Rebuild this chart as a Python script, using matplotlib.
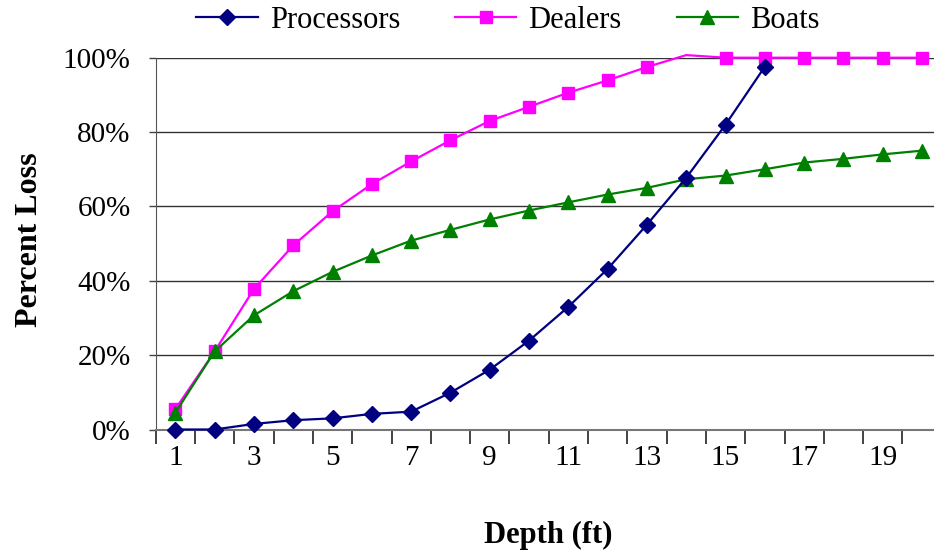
import matplotlib
matplotlib.use("Agg")
import matplotlib.pyplot as plt
from matplotlib.ticker import FuncFormatter, FixedLocator, NullFormatter

depth = list(range(1, 21))
processors = [0.0, 0.0, 1.5, 2.5, 3.0, 4.2, 4.8, 9.9, 16.1, 23.9, 33.0, 43.2, 55.1, 67.7, 82.0, 97.6]
dealers = [5.5, 21.0, 37.8, 49.5, 58.7, 66.0, 72.1, 77.8, 83.0, 86.8, 90.6, 93.9, 97.5, 100.7,
           100, 100, 100, 100, 100, 100]
boats = [4.5, 21.0, 30.7, 37.2, 42.4, 46.8, 50.8, 53.7, 56.5, 58.9, 61.1, 63.2, 65.0, 67.3,
         68.3, 70.0, 71.8, 72.8, 74.0, 75.0]
xtick_labels = [1, 3, 5, 7, 9, 11, 13, 15, 17, 19]

plt.rcParams['font.family'] = ['Liberation Serif', 'DejaVu Serif']

W, H = 934, 556
fig = plt.figure(figsize=(W / 100, H / 100), dpi=100)
left, right, top, bottom = 155.7, 941.7, 57.7, 429.5
ax = fig.add_axes([left / W, 1 - bottom / H, (right - left) / W, (bottom - top) / H])

ax.plot(depth[:len(processors)], processors, color='#000080', marker='D', markersize=8.5,
        lw=1.6, label='Processors', clip_on=False, zorder=3)
ax.plot(depth, dealers, color='#FF00FF', marker='s', markersize=9, lw=1.6,
        label='Dealers', clip_on=False, zorder=2,
        markevery=[i for i, v in enumerate(dealers) if v <= 100])
ax.plot(depth, boats, color='#008000', marker='^', markersize=10.5, lw=1.6,
        label='Boats', clip_on=False, zorder=2)

ax.set_xlim(0.5, 20.5)
ax.set_ylim(0, 100)
ax.set_yticks([0, 20, 40, 60, 80, 100])
ax.yaxis.set_major_formatter(FuncFormatter(lambda v, p: f"{int(v)}%"))
ax.yaxis.grid(True, color='#333333', lw=1.0)
ax.set_axisbelow(True)

ax.xaxis.set_major_locator(FixedLocator(xtick_labels))
ax.set_xticklabels([str(v) for v in xtick_labels])
ax.tick_params(axis='x', which='major', length=0, labelsize=21, pad=11)
ax.xaxis.set_minor_locator(FixedLocator([i + 0.5 for i in range(0, 21)]))
ax.xaxis.set_minor_formatter(NullFormatter())
ax.tick_params(axis='x', which='minor', length=10, width=1.2, color='#222222', direction='out')
ax.tick_params(axis='y', length=5, width=1.0, labelsize=21, pad=13, direction='out', color='#444444')

for s in ['top', 'right']:
    ax.spines[s].set_visible(False)
ax.spines['left'].set_color('#555555')
ax.spines['bottom'].set_color('#777777')
ax.spines['bottom'].set_linewidth(1.5)

fig.text(30 / W, 1 - 240 / H, 'Percent Loss', rotation=90, ha='center', va='center',
         fontsize=23, fontweight='bold')
fig.text(548 / W, 1 - 535 / H, 'Depth (ft)', ha='center', va='center',
         fontsize=22, fontweight='bold')

fig.legend(loc='center', bbox_to_anchor=(508 / W, 1 - 20 / H), ncol=3, frameon=False,
           fontsize=22, handlelength=2.0, columnspacing=1.8, handletextpad=0.4)

fig.savefig('out.png', dpi=100)
